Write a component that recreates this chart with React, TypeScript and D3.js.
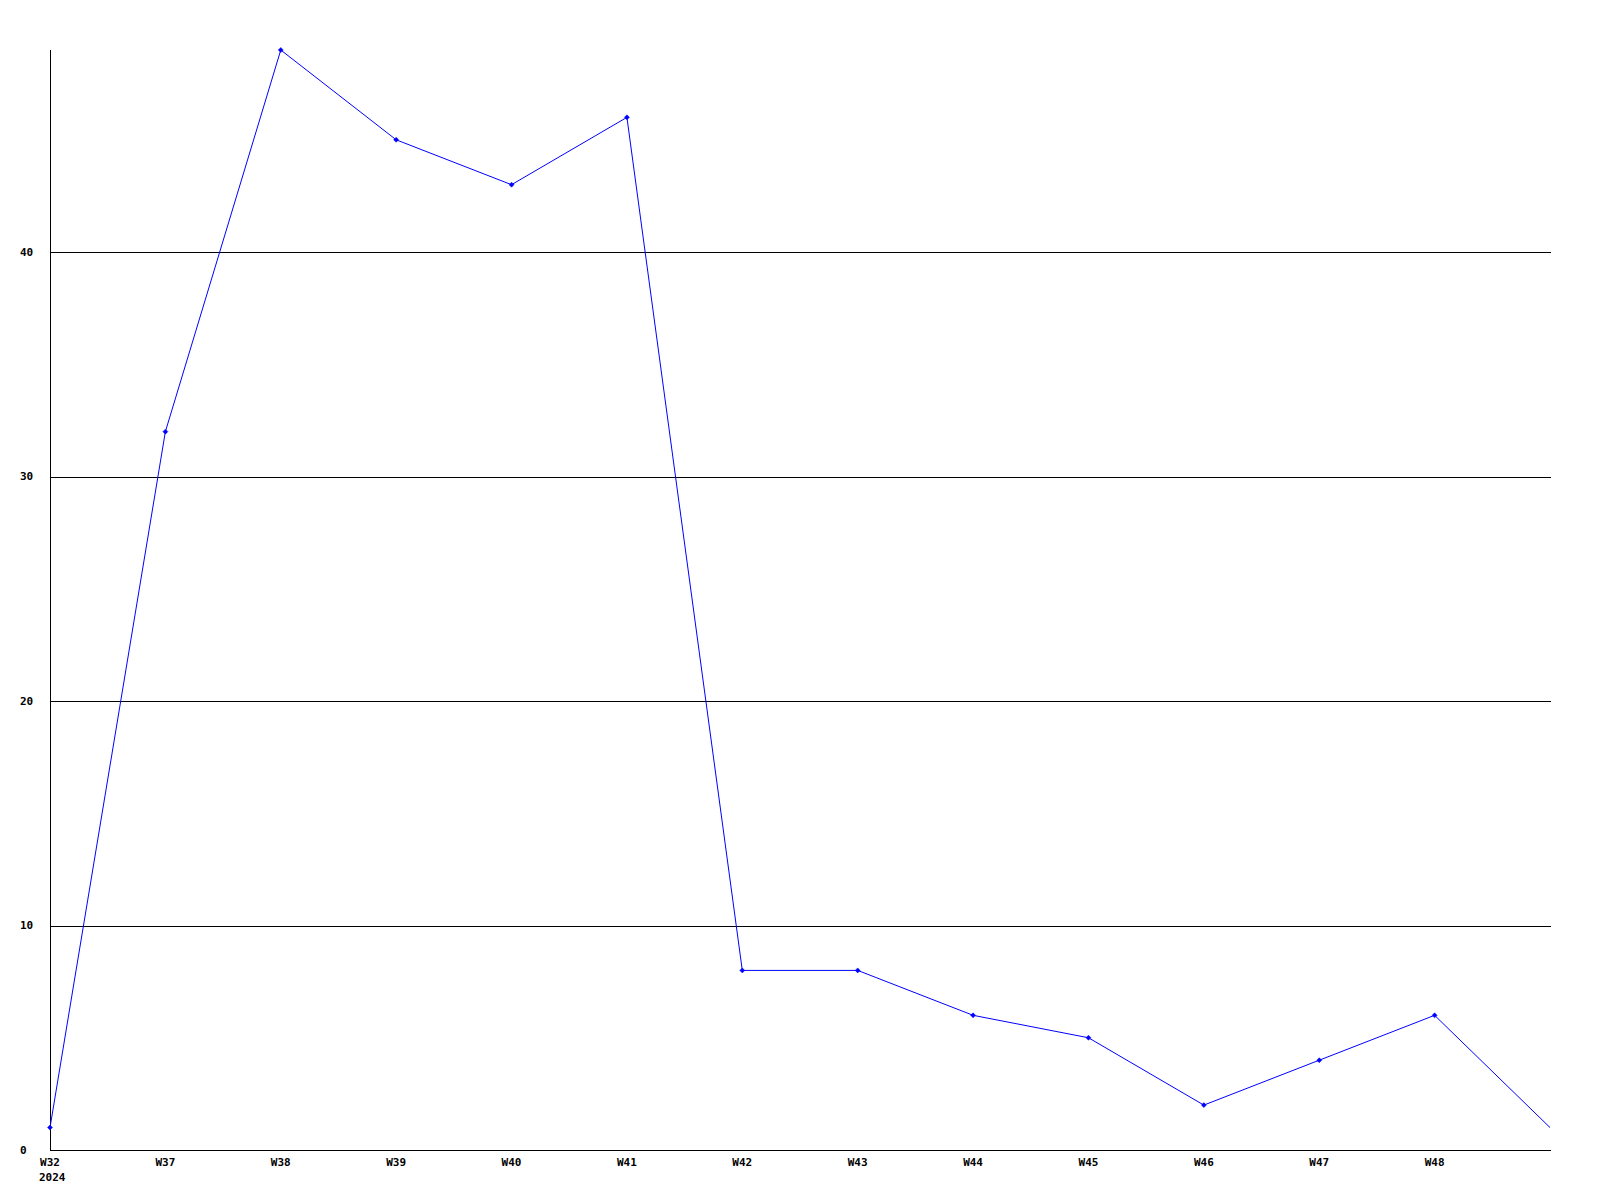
import React from "react";
import * as d3 from "d3";

const categories = ["W32", "W37", "W38", "W39", "W40", "W41", "W42", "W43", "W44", "W45", "W46", "W47", "W48", ""];
const values = [1, 32, 49, 45, 43, 46, 8, 8, 6, 5, 2, 4, 6, 1];
const yTicks = [0, 10, 20, 30, 40];
const yearLabel = "2024";

export default function App() {
  const W = 1600, H = 1200;
  const left = 50, right = 1550, top = 50, bottom = 1150;
  const x = d3.scaleLinear().domain([0, categories.length - 1]).range([left, right]);
  const y = d3.scaleLinear().domain([0, 49]).range([bottom, top]);
  const line = d3.line<number>().x((_, i) => x(i)).y((d) => y(d));
  const font = "'DejaVu Sans Mono', 'Liberation Mono', monospace";
  const fs = 11;
  return (
    <svg width={W} height={H} style={{ position: "absolute", left: 0, top: 0, background: "#fff" }}>
      <rect x={0} y={0} width={W} height={H} fill="#fff" />
      {yTicks.filter((t) => t > 0).map((t) => (
        <line key={t} x1={left} x2={right + 1} y1={Math.round(y(t)) + 0.5} y2={Math.round(y(t)) + 0.5} stroke="#000" strokeWidth={1} />
      ))}
      <line x1={left + 0.5} x2={left + 0.5} y1={top} y2={bottom + 0.5} stroke="#000" strokeWidth={1} />
      <line x1={left} x2={right + 1} y1={bottom + 0.5} y2={bottom + 0.5} stroke="#000" strokeWidth={1} />
      {yTicks.map((t) => (
        <text key={t} x={20} y={y(t)} dy="0.35em" fontFamily={font} fontWeight="bold" fontSize={fs} fill="#000">{t}</text>
      ))}
      {categories.map((c, i) => c ? (
        <text key={c} x={x(i)} y={bottom + 12} dy="0.35em" textAnchor="middle" fontFamily={font} fontWeight="bold" fontSize={fs} fill="#000">{c}</text>
      ) : null)}
      <text x={x(0) - 11} y={bottom + 27} dy="0.35em" fontFamily={font} fontWeight="bold" fontSize={fs} fill="#000">{yearLabel}</text>
      <path d={line(values) || ""} fill="none" stroke="#0000ff" strokeWidth={1} />
      {values.slice(0, values.length - 1).map((v, i) => (
        <path key={i} d={`M${x(i)},${y(v) - 2.5}L${x(i) + 2.5},${y(v)}L${x(i)},${y(v) + 2.5}L${x(i) - 2.5},${y(v)}Z`} fill="#0000ff" stroke="#0000ff" strokeWidth={0.5} />
      ))}
    </svg>
  );
}
